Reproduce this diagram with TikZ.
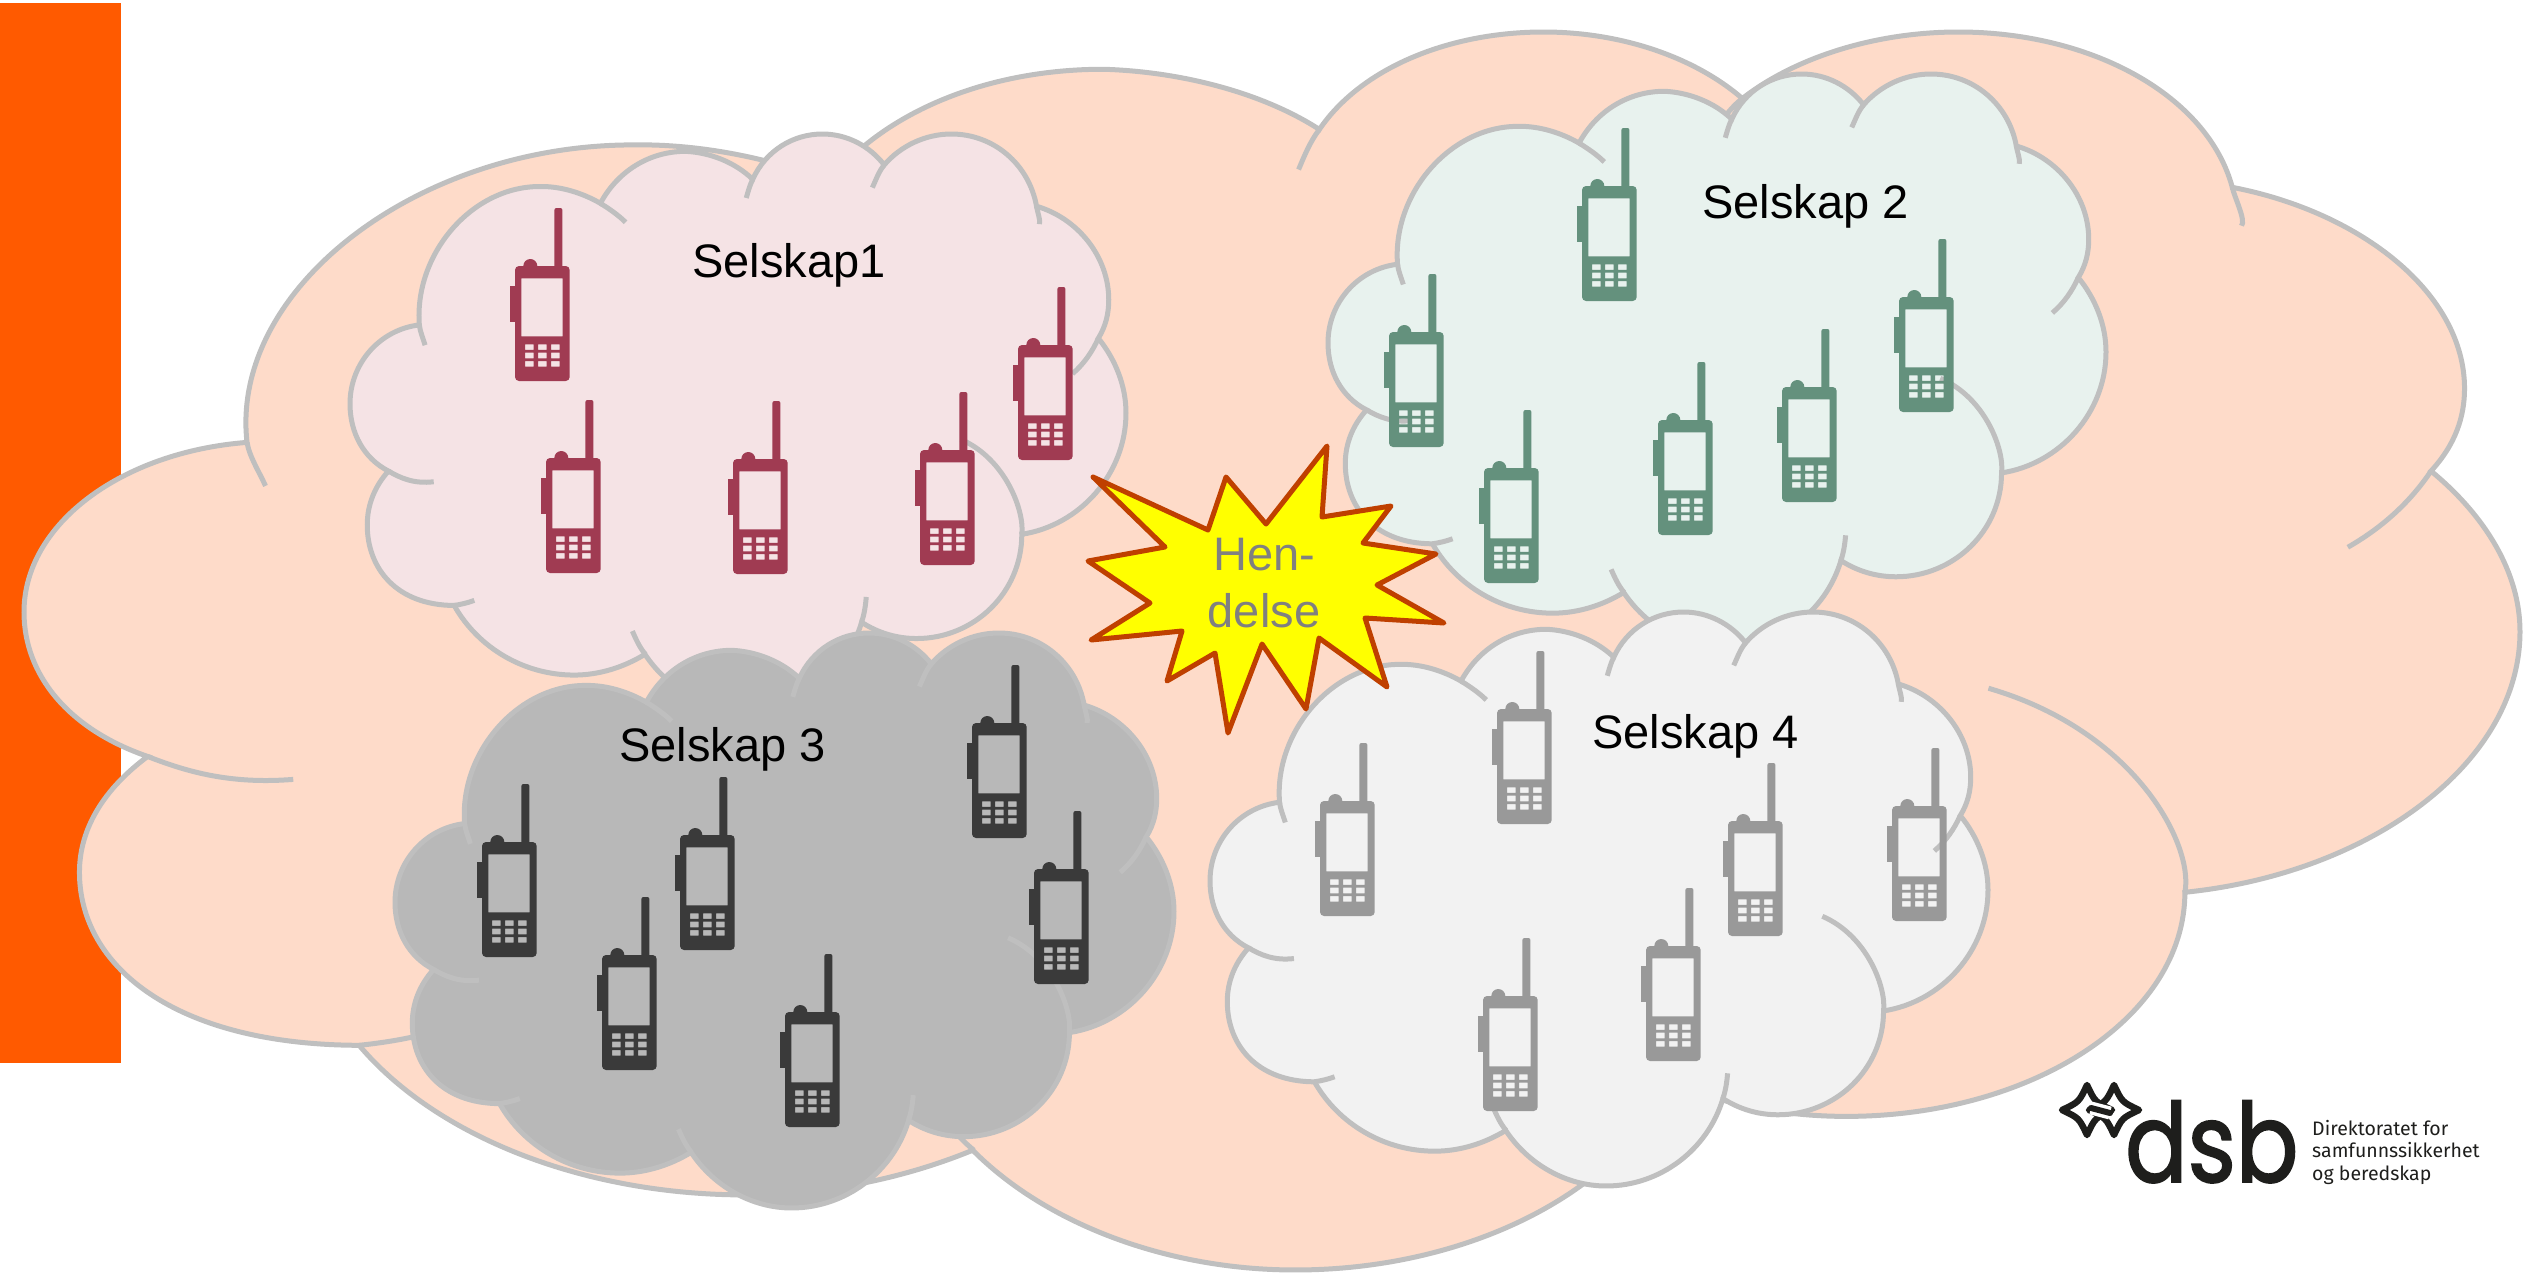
\documentclass[tikz,border=0pt]{standalone}
\usepackage{fontspec}
\setmainfont{Liberation Sans}
\newfontfamily\logofont[FakeBold=1.6,FakeStretch=0.84]{Poppins}
\newfontfamily\logotext{Fira Sans}
\usepackage{tikz}

\definecolor{barorange}{HTML}{FF5A00}
\definecolor{cloudedge}{HTML}{BFBFBF}
\definecolor{cloudbase}{HTML}{FEDBC9}
\definecolor{cloudred}{HTML}{F5E3E5}
\definecolor{cloudgreen}{HTML}{E8F2EE}
\definecolor{clouddark}{HTML}{B8B8B8}
\definecolor{cloudgrey}{HTML}{F2F2F2}
\definecolor{radiored}{HTML}{A03B52}
\definecolor{radiogreen}{HTML}{64917D}
\definecolor{radiodark}{HTML}{3A3A3A}
\definecolor{radiogrey}{HTML}{999999}
\definecolor{burstfill}{HTML}{FFFF00}
\definecolor{burstedge}{HTML}{BF4000}
\definecolor{logoblack}{HTML}{1E1E1C}

\newcommand{\cloudpart}[5]{%
	\begin{scope}[shift={(#1,#2)},xscale=#3/2160,yscale=#4/2160]
	\draw[cloudline,fill=#5] (193,716) .. controls (178,449) and (340,197) .. (527,197)
		.. controls (586,195) and (647,221) .. (697,260) .. controls (745,139) and (834,65) .. (934,65)
		.. controls (1000.4,69) and (1071,105) .. (1121,170) .. controls (1157,63) and (1233,0) .. (1315,0)
		.. controls (1384,0) and (1447,46) .. (1487,116) .. controls (1533,44) and (1602,0) .. (1674,0)
		.. controls (1791,0) and (1890,113) .. (1911,271) .. controls (2024,315) and (2112,458) .. (2112,622)
		.. controls (2112,672) and (2104,720) .. (2083,766) .. controls (2131,846) and (2160,945) .. (2160,1046)
		.. controls (2160,1275) and (2031,1468) .. (1870,1501) .. controls (1870,1720) and (1737,1892) .. (1577,1892)
		.. controls (1522,1892) and (1470,1871) .. (1424,1831) .. controls (1382,2024) and (1249,2160) .. (1100,2160)
		.. controls (989,2160) and (884,2079) .. (821,1951) .. controls (762,2000) and (693,2029) .. (624,2029)
		.. controls (485,2029) and (357,1928) .. (290,1768) .. controls (130,1767) and (48,1630) .. (48,1466)
		.. controls (48,1390) and (69,1321) .. (107,1264) .. controls (38,1216) and (0,1121) .. (0,1012)
		.. controls (0,859) and (84,733) .. (193,716) -- cycle;
	\draw[cloudline] (193,716) .. controls (195,741) and (204,769) .. (209,792)
		(697,260) .. controls (720,279) and (748,305) .. (767,331)
		(1121,170) .. controls (1113,191) and (1108,216) .. (1103,240)
		(1487,116) .. controls (1472,140) and (1464,172) .. (1454,201)
		(1911,271) .. controls (1913,289) and (1923,329) .. (1919,338)
		(2083,766) .. controls (2066,817) and (2043,862) .. (2011,899)
		(1870,1501) .. controls (1878,1420) and (1828,1220) .. (1700,1145)
		(1424,1831) .. controls (1432,1798) and (1435,1768) .. (1437,1736)
		(822,1951) .. controls (806,1925) and (796,1895) .. (786,1864)
		(290,1768) .. controls (309,1764) and (328,1758) .. (346,1749)
		(107,1264) .. controls (140,1290) and (178,1313) .. (233,1304);
	\end{scope}
}

\newcommand{\logostar}[2]{%
	\draw[logoline] (#1-25,#2) .. controls (#1-8,#2-8) .. (#1,#2-25)
		.. controls (#1+8,#2-8) .. (#1+25,#2) .. controls (#1+8,#2+8) .. (#1,#2+25)
		.. controls (#1-8,#2+8) .. (#1-25,#2) -- cycle;
}

\begin{document}
\begin{tikzpicture}[x=1pt,y=-1pt,
	cloudline/.style={draw=cloudedge,line width=5pt},
	logoline/.style={draw=logoblack,line width=6.5pt,line join=round},
	label/.style={inner sep=0pt,anchor=base west,font=\fontsize{47}{57}\selectfont},
	radio/.pic={
		\fill (39.4,-58) [rounded corners=2pt] -- (39.4,2) -- (47.4,2) -- (47.4,-58) -- cycle;
		\fill (15.3,0) circle (7pt);
		\fill (-5.3,20) rectangle (1,55.7);
		\fill[even odd rule] [rounded corners=4pt] (0,0) rectangle (54.7,115)
			[sharp corners] (6.4,12.3) rectangle (47.7,70.3)
			\foreach \kx in {10,23,36} { \foreach \ky in {78.3,86.7,95} {
				(\kx,\ky) rectangle ++(8.6,5.6) } };
	}]
\useasboundingbox (0,0) rectangle (2526,1272);

\fill[barorange] (0,3) rectangle (121,1063);

\cloudpart{24}{32}{2496}{1238}{cloudbase}
\cloudpart{350}{134}{776}{576}{cloudred}
\cloudpart{1328}{74}{778}{574}{cloudgreen}
\cloudpart{395}{633}{779}{575}{clouddark}
\cloudpart{1210}{612}{778}{574}{cloudgrey}

\foreach \px/\py in {515/266,1018/345,546/458,733/459,920/450}
	\pic[color=radiored] at (\px,\py) {radio};
\foreach \px/\py in {1582/186,1389/332,1484/468,1658/420,1782/387,1899/297}
	\pic[color=radiogreen] at (\px,\py) {radio};
\foreach \px/\py in {482/842,680/835,602/955,785/1012,972/723,1034/869}
	\pic[color=radiodark] at (\px,\py) {radio};
\foreach \px/\py in {1320/801,1497/709,1728/821,1892/806,1646/946,1483/996}
	\pic[color=radiogrey] at (\px,\py) {radio};

\node[label] (selskap1) at (692,277) {Selskap1};
\node[label] (selskap2) at (1702,218) {Selskap 2};
\node[label] (selskap3) at (619,761) {Selskap 3};
\node[label] (selskap4) at (1592,748) {Selskap 4};

\draw[burstedge,fill=burstfill,line width=5pt,line join=round]
	(1093,477) -- (1208,530) -- (1226,477) -- (1266,524) -- (1327,446) -- (1322,517)
	-- (1391,506) -- (1363,543) -- (1436,554) -- (1377,585) -- (1444,623) -- (1365,618)
	-- (1387,687) -- (1319,638) -- (1306,709) -- (1262,644) -- (1228,733) -- (1215,653)
	-- (1167,681) -- (1182,631) -- (1091,640) -- (1150,603) -- (1088,561) -- (1165,547) -- cycle;
\node[label,anchor=base,align=center,text=black!50] (hendelse) at (1264,627) {Hen-\\delse};

\logostar{2087}{1110}
\logostar{2114}{1110}
\draw[white,line width=13pt] (2091,1108) -- (2110,1113);
\draw[logoblack,line width=6pt,line cap=round] (2091,1108) -- (2110,1113);
\node[inner sep=0pt,anchor=base west,text=logoblack,font=\logofont\fontsize{110}{110}\selectfont] (dsb) at (2125,1182) {dsb};
\node[inner sep=0pt,anchor=base west,align=left,text=logoblack,font=\logotext\fontsize{19.5}{22.5}\selectfont] (dsbtext) at (2312,1180) {Direktoratet for\\samfunnssikkerhet\\og beredskap};

\end{tikzpicture}
\end{document}
